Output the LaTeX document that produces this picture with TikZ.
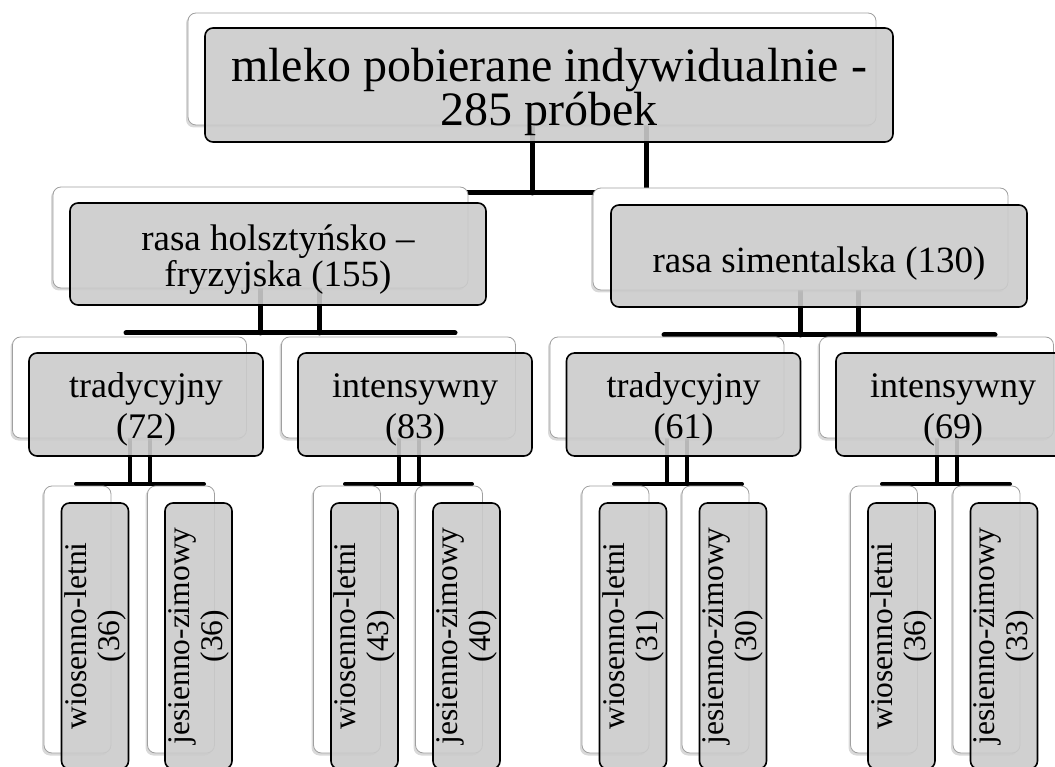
\documentclass[tikz,border=0pt]{standalone}
\usepackage{fontspec}
\setmainfont{Liberation Serif}
\usepackage{tikz}
\usetikzlibrary{shadows,backgrounds}
\definecolor{cardgray}{RGB}{203,203,203}
\definecolor{cardedge}{RGB}{160,160,160}

\begin{document}
\begin{tikzpicture}[x=1pt,y=-1pt,
    backcard/.style={draw=cardedge, line width=0.8pt, fill=white, rounded corners=8pt,
      drop shadow={shadow xshift=-2pt, shadow yshift=-2.5pt, opacity=0.3}},
    frontcard/.style={draw=black, line width=1.6pt, fill=cardgray, fill opacity=0.9,
      text opacity=1, rounded corners=8pt, inner sep=0pt, align=center},
    link/.style={line width=5pt, line cap=round},
    thinlink/.style={line width=4pt, line cap=round}]
\useasboundingbox (0,0) rectangle (1055,767);

% Top card
\node[backcard, minimum width=688, minimum height=112] (root-bk) at (532,69) {};
\node[frontcard, minimum width=688, minimum height=114, font=\fontsize{48}{38}\selectfont]
  (root) at (549,85) {\rule{0pt}{47pt}mleko pobierane indywidualnie -\\285 próbek};

% Breeds
\node[backcard, minimum width=415, minimum height=101] (hf-bk) at (260.5,237.5) {};
\node[frontcard, minimum width=416, minimum height=102, font=\fontsize{37}{36}\selectfont]
  (hf) at (278,254) {\rule{0pt}{37.5pt}rasa holsztyńsko –\\fryzyjska (155)};
\node[backcard, minimum width=415, minimum height=102] (sim-bk) at (800.5,239) {};
\node[frontcard, minimum width=416, minimum height=102, font=\fontsize{37}{37}\selectfont]
  (sim) at (819,256) {\rule{0pt}{41.5pt}rasa simentalska (130)};

% Systems
\foreach \n/\x/\t in {hft/129.5/tradycyjny\\(72), hfi/398.5/intensywny\\(83),
                      simt/667/tradycyjny\\(61), simi/936.5/intensywny\\(69)} {
  \node[backcard, minimum width=234, minimum height=101] (\n-bk) at (\x,387.5) {};
  \node[frontcard, minimum width=234, minimum height=103, font=\fontsize{36}{41}\selectfont]
    (\n) at (\x+16.5,404.5) {\rule{0pt}{34.5pt}\t};
}

% Seasons (vertical cards)
\foreach \n/\x/\t in {hftw/77.5/wiosenno-letni\\(36), hftj/181/jesienno-zimowy\\(36),
                      hfiw/347/wiosenno-letni\\(43), hfij/449/jesienno-zimowy\\(40),
                      simtw/615.5/wiosenno-letni\\(31), simtj/715.5/jesienno-zimowy\\(30),
                      simiw/884/wiosenno-letni\\(36), simij/986.5/jesienno-zimowy\\(33)} {
  \node[backcard, minimum width=67, minimum height=267] (\n-bk) at (\x,619.5) {};
  \node[frontcard, rotate=90, minimum width=266, minimum height=67,
    font=\fontsize{31.5}{33}\selectfont] (\n) at (\x+17.5,636) {\t};
}

% Connectors behind the cards
\begin{scope}[on background layer]
  % top -> breeds
  \coordinate (root-j) at (646,193);
  \draw[link] (root-bk.center) -- (root-bk.center |- root-j);
  \draw[link] (root-bk.center -| root-j) -- (root-j);
  \draw[link] (hf-bk.center |- root-j) -- (sim-bk.center |- root-j);

  % breeds -> systems
  \foreach \p/\dx/\y/\l/\r in {hf/319.5/333/126/455, sim/858/335/664/995} {
    \coordinate (\p-j) at (\dx,\y);
    \coordinate (\p-l) at (\l,\y);
    \coordinate (\p-r) at (\r,\y);
    \draw[link] (\p-bk.center) -- (\p-bk.center |- \p-j);
    \draw[link] (\p-bk.center -| \p-j) -- (\p-j);
    \draw[link] (\p-l) -- (\p-r);
  }

  % systems -> seasons
  \foreach \p/\dx/\l/\r in {hft/150/76/204, hfi/419/345/472,
                            simt/687/614/742, simi/957/882/1010} {
    \coordinate (\p-j) at (\dx,484);
    \coordinate (\p-l) at (\l,484);
    \coordinate (\p-r) at (\r,484);
    \draw[thinlink] (\p-bk.center) -- (\p-bk.center |- \p-j);
    \draw[thinlink] (\p-bk.center -| \p-j) -- (\p-j);
    \draw[thinlink] (\p-l) -- (\p-r);
  }
\end{scope}
\end{tikzpicture}
\end{document}
